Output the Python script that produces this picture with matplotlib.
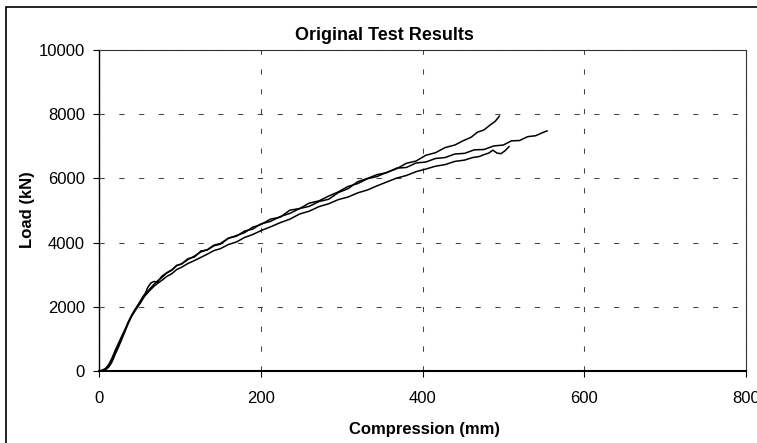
import matplotlib.pyplot as plt
from matplotlib.patches import Rectangle

plt.rcParams['font.family'] = ['Liberation Sans', 'DejaVu Sans']

# test curves (compression mm, load kN)
xa = [0, 4, 8, 12, 16, 20, 24, 28, 32, 36, 40, 44, 48, 52, 56, 60, 64, 68, 72, 78, 84, 90, 96, 102,
      110, 118, 126, 134, 142, 150, 160, 170, 180, 190, 200, 212, 224, 236, 248, 260, 272, 284, 296,
      308, 320, 332, 344, 356, 368, 380, 392, 404, 416, 428, 440, 450, 460, 468, 476, 484, 490, 495]
ya = [0, 15, 50, 150, 320, 560, 790, 1000, 1230, 1470, 1700, 1850, 2000, 2150, 2330, 2590, 2740, 2790,
      2760, 2960, 3060, 3150, 3290, 3330, 3500, 3550, 3740, 3770, 3900, 3950, 4130, 4220, 4310, 4480,
      4560, 4730, 4790, 5010, 5060, 5230, 5300, 5450, 5580, 5750, 5840, 5990, 6060, 6190, 6300, 6470,
      6540, 6720, 6800, 6960, 7040, 7170, 7280, 7440, 7510, 7670, 7780, 7940]

xb = [0, 4, 8, 12, 16, 20, 24, 28, 32, 36, 40, 44, 48, 52, 56, 60, 64, 68, 72, 78, 84, 90, 96, 102,
      110, 118, 126, 134, 142, 150, 160, 170, 180, 190, 200, 212, 224, 236, 248, 260, 272, 284, 296,
      308, 320, 332, 344, 356, 368, 380, 392, 404, 416, 428, 440, 452, 464, 476, 488, 500, 510, 520,
      530, 540, 548, 554]
yb = [0, 10, 40, 120, 280, 520, 740, 980, 1250, 1500, 1690, 1880, 2050, 2220, 2380, 2480, 2590, 2700,
      2800, 2920, 3060, 3140, 3280, 3340, 3470, 3580, 3710, 3780, 3920, 3970, 4140, 4200, 4360, 4420,
      4580, 4660, 4810, 4910, 5060, 5130, 5280, 5350, 5560, 5680, 5900, 6000, 6120, 6180, 6320, 6340,
      6480, 6510, 6620, 6650, 6760, 6780, 6890, 6900, 7010, 7040, 7170, 7180, 7300, 7330, 7420, 7480]

xc = [0, 4, 8, 12, 16, 20, 24, 28, 32, 36, 40, 44, 48, 52, 56, 60, 64, 68, 72, 78, 84, 90, 96, 102,
      110, 118, 126, 134, 142, 150, 160, 170, 180, 190, 200, 212, 224, 236, 248, 260, 272, 284, 296,
      308, 320, 332, 344, 356, 368, 380, 392, 404, 416, 428, 440, 452, 462, 470, 476, 482, 487, 492,
      497, 502, 507]
yc = [0, 25, 80, 200, 400, 640, 860, 1080, 1290, 1520, 1720, 1900, 2040, 2170, 2320, 2430, 2540, 2640,
      2720, 2830, 2950, 3030, 3160, 3230, 3350, 3440, 3540, 3640, 3750, 3810, 3940, 4020, 4160, 4250,
      4370, 4490, 4620, 4730, 4890, 4980, 5120, 5210, 5340, 5420, 5550, 5640, 5770, 5890, 6010, 6090,
      6210, 6290, 6380, 6430, 6530, 6570, 6650, 6680, 6740, 6790, 6880, 6790, 6770, 6860, 6990]

xticks = [0, 200, 400, 600, 800]
yticks = [0, 2000, 4000, 6000, 8000, 10000]

W, H = 757, 443
fig = plt.figure(figsize=(W / 100, H / 100), dpi=100)
ax = fig.add_axes([99 / W, 1 - 371 / H, (746 - 99) / W, (371 - 50) / H])

for x, y in [(xa, ya), (xb, yb), (xc, yc)]:
    ax.plot(x, y, color='black', lw=1.1)

ax.set_xlim(0, 800)
ax.set_ylim(0, 10000)
ax.set_xticks(xticks)
ax.set_yticks(yticks)
ax.tick_params(axis='both', direction='out', length=4.3, width=0.8, labelsize=12, color='black')
ax.tick_params(axis='x', pad=10)
ax.tick_params(axis='y', pad=5.8)
ax.grid(True, color='#444444', lw=0.75, linestyle=(0, (5, 14)))
ax.set_axisbelow(True)

ax.spines['left'].set_linewidth(1.0)
ax.spines['bottom'].set_linewidth(1.5)
for s in ['top', 'right']:
    ax.spines[s].set_linewidth(0.8)
    ax.spines[s].set_color('#333333')

fig.text(384 / W, 1 - 40 / H, 'Original Test Results', ha='center', va='baseline',
         fontsize=13, fontweight='bold')
fig.text(424 / W, 1 - 434 / H, 'Compression (mm)', ha='center', va='baseline',
         fontsize=12, fontweight='bold')
fig.text(35 / W, 1 - 210 / H, 'Load (kN)', ha='right', va='center', rotation=90,
         fontsize=12, fontweight='bold')

# chart area border (runs off the right and bottom edge)
fig.patches.append(Rectangle((6 / W, -0.1), 2, 1.1 - 7 / H, transform=fig.transFigure,
                             fill=False, edgecolor='black', lw=1.2, clip_on=False))

fig.savefig('out.png', dpi=100)
